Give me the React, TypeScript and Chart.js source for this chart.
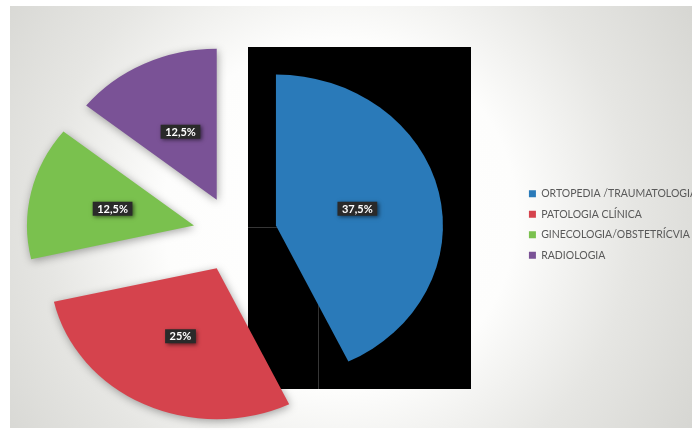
import React, { useEffect, useRef } from "react";
import { Chart, registerables } from "chart.js";

Chart.register(...registerables);

// ---- data ----
const categories = [
  "ORTOPEDIA /TRAUMATOLOGIA",
  "PATOLOGIA CLÍNICA",
  "GINECOLOGIA/OBSTETRÍCVIA",
  "RADIOLOGIA",
];
const shares = [37.5, 25, 12.5, 12.5];
const shareLabels = ["37,5%", "25%", "12,5%", "12,5%"];
const sliceColors = ["#2a7ab9", "#d5434d", "#7ac14e", "#7a5296"];

// ---- layout / style ----
const PAGE_W = 692;
const PAGE_H = 430;
const SHIFT = 49; // canvas starts this far left of the page
const RADIUS = 151;
const EXPLODE = 38;
const STRETCH = 1.106;
const LEGEND_FONT = { family: "Lato", size: 10.5 };
const LEGEND_LEFT = 518; // page x of the legend box

function measureLegend(): number {
  const c = document.createElement("canvas").getContext("2d");
  if (!c) return 160;
  c.font = `${LEGEND_FONT.size}px ${LEGEND_FONT.family}`;
  return Math.max(...categories.map((t) => c.measureText(t).width));
}

export default function App() {
  const ref = useRef<HTMLCanvasElement | null>(null);
  const tw = measureLegend();
  const legendWidth = 10 + 7 + LEGEND_FONT.size / 2 + tw + 10;
  const canvasW = LEGEND_LEFT + SHIFT + legendWidth;

  useEffect(() => {
    if (!ref.current) return;

    const decor = {
      id: "decor",
      beforeDraw(chart: any) {
        const ctx = chart.ctx;
        ctx.save();
        ctx.fillStyle = "#ffffff";
        ctx.fillRect(0, 0, chart.width, chart.height);
        const gx = 340 + SHIFT;
        const gy = 215;
        const g = ctx.createRadialGradient(gx, gy, 0, gx, gy, 420);
        g.addColorStop(0, "#ffffff");
        g.addColorStop(0.42, "#fdfdfc");
        g.addColorStop(0.7, "#e6e6e3");
        g.addColorStop(1, "#d5d5d1");
        ctx.fillStyle = g;
        ctx.fillRect(10 + SHIFT, 6, PAGE_W - 10, PAGE_H - 8);
        ctx.restore();
      },
      beforeDatasetsDraw(chart: any) {
        const ctx = chart.ctx;
        // black backdrop behind the large slice
        ctx.save();
        ctx.fillStyle = "#000000";
        ctx.fillRect(248 + SHIFT, 47, 223, 342);
        ctx.strokeStyle = "rgba(90,90,90,0.6)";
        ctx.lineWidth = 1;
        ctx.beginPath();
        ctx.moveTo(248 + SHIFT, 227.5);
        ctx.lineTo(290 + SHIFT, 227.5);
        ctx.moveTo(318.5 + SHIFT, 227);
        ctx.lineTo(318.5 + SHIFT, 389);
        ctx.stroke();
        ctx.restore();

        // explode slices
        const { left, right, top, bottom } = chart.chartArea;
        const cx = (left + right) / 2;
        const cy = (top + bottom) / 2;
        const meta = chart.getDatasetMeta(0);
        meta.data.forEach((arc: any) => {
          const mid = (arc.startAngle + arc.endAngle) / 2;
          arc.x = cx + Math.cos(mid) * EXPLODE;
          arc.y = cy + Math.sin(mid) * EXPLODE;
        });
        ctx.save();
        ctx.translate(cx, 0);
        ctx.scale(STRETCH, 1);
        ctx.translate(-cx, 0);
        ctx.shadowColor = "rgba(0,0,0,0.35)";
        ctx.shadowBlur = 9;
        ctx.shadowOffsetX = 1;
        ctx.shadowOffsetY = 2;
      },
      afterDatasetsDraw(chart: any) {
        const ctx = chart.ctx;
        ctx.restore();
        const { left, right } = chart.chartArea;
        const cx = (left + right) / 2;
        const meta = chart.getDatasetMeta(0);
        ctx.save();
        ctx.font = "bold 11px Lato";
        ctx.textAlign = "center";
        ctx.textBaseline = "middle";
        meta.data.forEach((arc: any, i: number) => {
          const mid = (arc.startAngle + arc.endAngle) / 2;
          const rr = arc.outerRadius / 2;
          const px = cx + (arc.x - cx + Math.cos(mid) * rr) * STRETCH;
          const py = arc.y + Math.sin(mid) * rr;
          const text = shareLabels[i];
          const w = ctx.measureText(text).width + 9;
          const h = 14;
          ctx.save();
          ctx.shadowColor = "rgba(0,0,0,0.55)";
          ctx.shadowBlur = 4;
          ctx.shadowOffsetX = 1.5;
          ctx.shadowOffsetY = 1.5;
          ctx.fillStyle = "#2a2a2a";
          ctx.fillRect(px - w / 2, py - h / 2, w, h);
          ctx.restore();
          ctx.fillStyle = "#ffffff";
          ctx.fillText(text, px, py + 0.5);
        });
        ctx.restore();
      },
    };

    const chart = new Chart(ref.current, {
      type: "pie",
      data: {
        labels: categories,
        datasets: [
          {
            data: shares,
            backgroundColor: sliceColors,
            borderWidth: 0,
            radius: RADIUS,
          } as any,
        ],
      },
      options: {
        responsive: false,
        animation: false,
        layout: { padding: { top: 19, left: 0, right: 0, bottom: 0 } },
        plugins: {
          title: {
            display: true,
            text: "",
            padding: 0,
            font: { size: 19, lineHeight: 1 },
          },
          legend: {
            position: "right",
            labels: {
              boxWidth: 7,
              boxHeight: 7,
              padding: 10,
              color: "#595959",
              font: LEGEND_FONT,
            },
          },
          tooltip: { enabled: false },
        },
      } as any,
      plugins: [decor],
    });
    return () => chart.destroy();
  }, []);

  return (
    <div
      style={{
        position: "fixed",
        left: 0,
        top: 0,
        width: PAGE_W,
        height: PAGE_H,
        overflow: "hidden",
        background: "#ffffff",
      }}
    >
      <canvas
        ref={ref}
        width={Math.ceil(canvasW)}
        height={PAGE_H}
        style={{ position: "absolute", left: -SHIFT, top: 0 }}
      />
    </div>
  );
}
